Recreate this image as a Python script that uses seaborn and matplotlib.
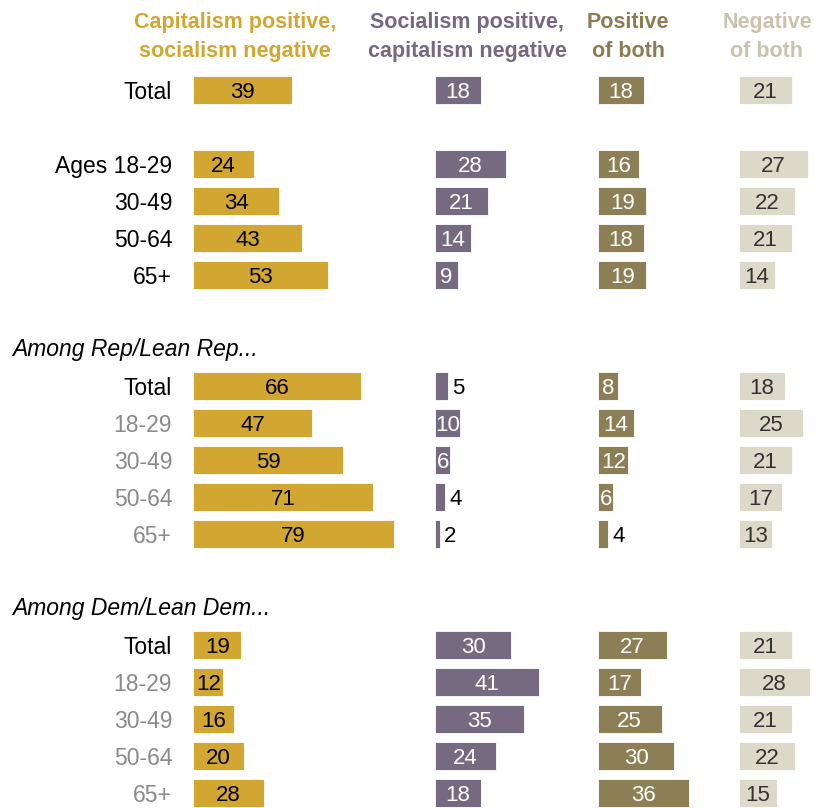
import numpy as np
import pandas as pd
import matplotlib.pyplot as plt
import seaborn as sns

# rows, top to bottom (None = empty spacer row)
row_labels = ['Total', None, 'Ages 18-29', '30-49', '50-64', '65+', None, None,
              'Total', '18-29', '30-49', '50-64', '65+', None, None,
              'Total', '18-29', '30-49', '50-64', '65+']
row_colors = ['#000000'] * 8 + ['#000000'] + ['#8a8a8a'] * 4 + [None, None] + ['#000000'] + ['#8a8a8a'] * 4
section_titles = {7: 'Among Rep/Lean Rep...', 14: 'Among Dem/Lean Dem...'}

cap_pos = [39, np.nan, 24, 34, 43, 53, np.nan, np.nan, 66, 47, 59, 71, 79, np.nan, np.nan, 19, 12, 16, 20, 28]
soc_pos = [18, np.nan, 28, 21, 14, 9, np.nan, np.nan, 5, 10, 6, 4, 2, np.nan, np.nan, 30, 41, 35, 24, 18]
both_pos = [18, np.nan, 16, 19, 18, 19, np.nan, np.nan, 8, 14, 12, 6, 4, np.nan, np.nan, 27, 17, 25, 30, 36]
both_neg = [21, np.nan, 27, 22, 21, 14, np.nan, np.nan, 18, 25, 21, 17, 13, np.nan, np.nan, 21, 28, 21, 22, 15]

headers = ['Capitalism positive,\nsocialism negative', 'Socialism positive,\ncapitalism negative',
           'Positive\nof both', 'Negative\nof both']

slots = ['r%02d' % i for i in range(len(row_labels))]
df = pd.DataFrame({'slot': slots, 'cap': cap_pos, 'soc': soc_pos, 'pos': both_pos, 'neg': both_neg})

W, H = 825, 808
PX = 2.54  # pixels per percentage point
fig = plt.figure(figsize=(W / 100, H / 100), dpi=100)
font = ['Liberation Sans', 'DejaVu Sans']
narrow = ['Liberation Sans Narrow', 'Liberation Sans', 'DejaVu Sans']
plt.rcParams['font.family'] = font

# series, bar color, header color, text color inside bar, left px, width px, header center px
cols = [
    ('cap', '#d2a731', '#d2a731', '#000000', 193, 235, 235),
    ('soc', '#766a80', '#76697f', '#ffffff', 435, 150, 467),
    ('pos', '#8c7f56', '#8a7d52', '#ffffff', 598, 135, 628),
    ('neg', '#dcd9c8', '#c8c4ac', '#333333', 739, 86, 767),
]

row_step = 37.0
first_row = 90
n = len(slots)
y_top = -first_row / row_step
y_bot = (n - 1) + (H - (first_row + row_step * (n - 1))) / row_step

for i, (key, color, hcolor, tcolor, left, width, hx) in enumerate(cols):
    ax = fig.add_axes([left / W, 0, width / W, 1])
    sns.barplot(data=df, x=key, y='slot', order=slots, color=color, width=0.76,
                orient='h', saturation=1, edgecolor='white', linewidth=0.6, ax=ax)
    ax.set_xlim(0, width / PX)
    ax.set_ylim(y_bot, y_top)
    ax.set_xlabel('')
    ax.set_ylabel('')
    ax.set_xticks([])
    for s in ax.spines.values():
        s.set_visible(False)
    ax.patch.set_alpha(0)

    for j, v in enumerate(df[key]):
        if np.isnan(v):
            continue
        if v <= 5:
            ax.text(v + 1.6, j, '%d' % v, ha='left', va='center_baseline', fontsize=16, color='#000000')
        else:
            ax.text(v / 2, j, '%d' % v, ha='center', va='center_baseline', fontsize=16, color=tcolor)

    if i == 0:
        ax.set_yticks(range(n))
        ax.set_yticklabels([l if l else '' for l in row_labels], fontsize=16.5)
        for t, c in zip(ax.get_yticklabels(), row_colors):
            if c:
                t.set_color(c)
            t.set_verticalalignment('center_baseline')
        ax.tick_params(axis='y', length=0, pad=15)
    else:
        ax.set_yticks([])

    fig.text(hx / W, 1 - 37 / H, headers[i], ha='center', va='center', fontsize=15.5,
             fontweight='bold', color=hcolor, family=narrow, linespacing=1.45)

for slot, title in section_titles.items():
    y_px = first_row + row_step * slot
    fig.text(12 / W, 1 - y_px / H, title, ha='left', va='center', fontsize=16.5,
             style='italic', color='#000000')

plt.savefig('out.png', dpi=100)
